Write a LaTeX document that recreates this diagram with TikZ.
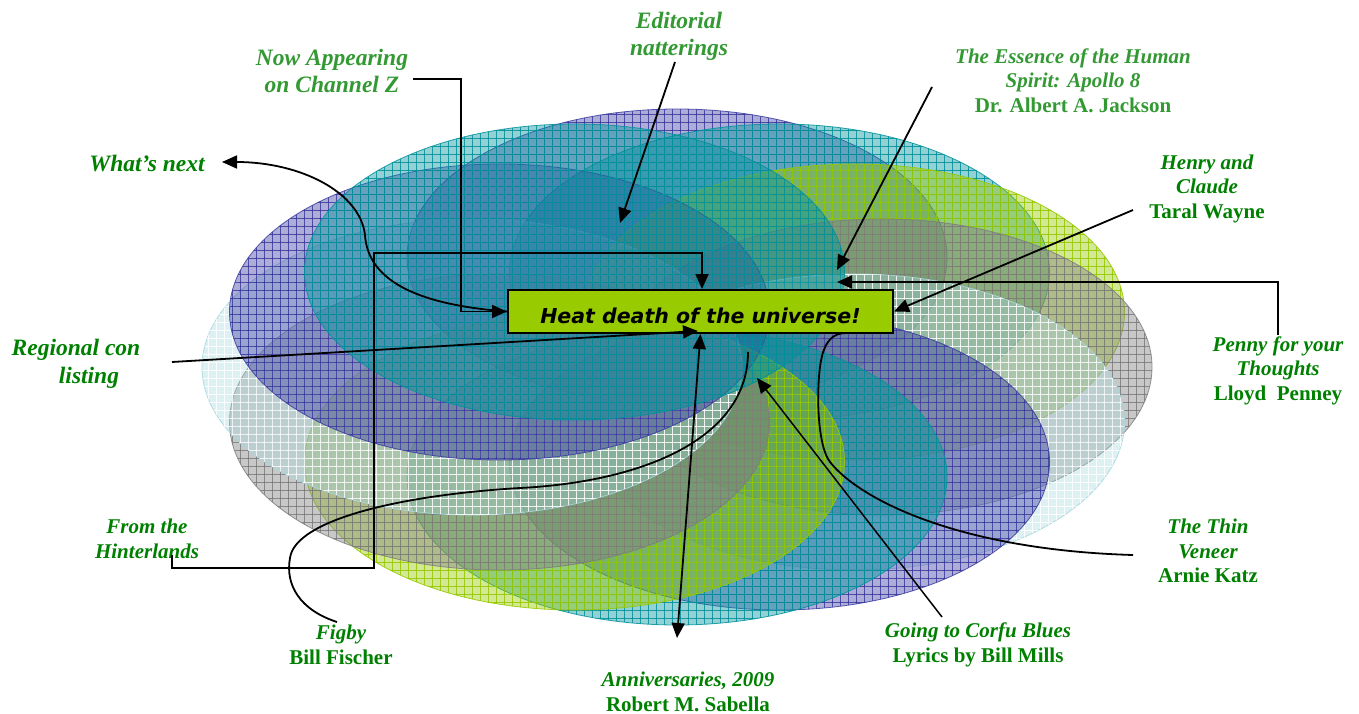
\documentclass[tikz,border=0pt]{standalone}
\usepackage{fontspec}
\setmainfont{Liberation Serif}
\newfontfamily\boxfont{DejaVu Sans}
\usetikzlibrary{arrows.meta,patterns}
\pgfdeclarepatternformonly{mygrid}{\pgfqpoint{-1pt}{-1pt}}{\pgfqpoint{9pt}{9pt}}{\pgfqpoint{8pt}{8pt}}{%
 \pgfsetlinewidth{0.6pt}%
 \pgfpathmoveto{\pgfqpoint{0pt}{-1pt}}\pgfpathlineto{\pgfqpoint{0pt}{9pt}}%
 \pgfpathmoveto{\pgfqpoint{-1pt}{0pt}}\pgfpathlineto{\pgfqpoint{9pt}{0pt}}%
 \pgfusepath{stroke}}
\definecolor{cP}{RGB}{60,60,160}
\definecolor{cT}{RGB}{0,145,155}
\definecolor{cY}{RGB}{150,200,0}
\definecolor{cG}{RGB}{125,125,125}
\definecolor{cL}{RGB}{165,215,222}
\definecolor{gD}{RGB}{0,128,0}
\definecolor{gL}{RGB}{51,153,51}
\definecolor{boxg}{RGB}{153,204,0}
\begin{document}
\begin{tikzpicture}[x=1pt,y=-1pt,
 ell/.style={fill=#1, fill opacity=0.42, draw=#1, draw opacity=0.85, line width=0.8pt,
   postaction={pattern=mygrid, pattern color=#1}},
 ellw/.style={fill=#1, fill opacity=0.38, draw=#1, draw opacity=0.85, line width=0.8pt,
   postaction={pattern=mygrid, pattern color=white}},
 conn/.style={draw=black, line width=1.8pt},
 tip/.style={-{Triangle[length=15pt,width=13pt]}},
 tips/.style={{Triangle[length=15pt,width=13pt]}-{Triangle[length=15pt,width=13pt]}},
 lab/.style={text=gD, font=\fontsize{21}{24.5}\selectfont\bfseries\itshape, align=center, inner sep=0pt},
 labL/.style={lab, text=gL},
 labB/.style={lab, font=\fontsize{23.5}{27}\selectfont\bfseries\itshape},
 heatbox/.style={draw=black, line width=2pt, fill=boxg, minimum width=385pt, minimum height=43pt,
   inner sep=0pt, text height=23pt, text depth=0pt, font=\boxfont\bfseries\itshape\fontsize{20.5}{24}\selectfont}
]
\useasboundingbox (0,0) rectangle (1359,714);
% ring of ellipses, each one laid over the one before it, clockwise
\def\rx{270pt}\def\ry{148pt}
\path[ell=cP]  (677,257) ellipse [x radius=\rx, y radius=\ry];
\path[ell=cT]  (779.5,272) ellipse [x radius=\rx, y radius=\ry];
\path[ell=cY]  (854.5,312) ellipse [x radius=\rx, y radius=\ry];
\path[ell=cG]  (882,367) ellipse [x radius=\rx, y radius=\ry];
\path[ellw=cL] (854.5,422) ellipse [x radius=\rx, y radius=\ry];
\path[ell=cP]  (779.5,462) ellipse [x radius=\rx, y radius=\ry];
\path[ell=cT]  (677,477) ellipse [x radius=\rx, y radius=\ry];
\path[ell=cY]  (574.5,462) ellipse [x radius=\rx, y radius=\ry];
\path[ell=cG]  (499.5,422) ellipse [x radius=\rx, y radius=\ry];
\path[ellw=cL] (472,367) ellipse [x radius=\rx, y radius=\ry];
\path[ell=cP]  (499.5,312) ellipse [x radius=\rx, y radius=\ry];
\path[ell=cT]  (574.5,272) ellipse [x radius=\rx, y radius=\ry];

% central box
\node[heatbox] (heat) at (700.5,311.5) {Heat death of the universe!};

% labels
\node[labB, text=gL] (nowapp) at (332,70.5) {Now Appearing\\on Channel Z};
\node[labB, text=gL] (editorial) at (679,36.5) {Editorial\\natterings};
\node[labB] (whatsnext) at (147,164) {What’s next};
\node[labL] (essence) at (1073,80.5) {The Essence of the Human\\Spirit: Apollo 8\\{\upshape Dr. Albert A. Jackson}};
\node[lab] (henry) at (1207,188.5) {Henry and\\Claude\\{\upshape Taral Wayne}};
\node[labB, font=\fontsize{23.5}{28}\selectfont\bfseries\itshape] (regional) at (76,364) {Regional con\\\hspace*{26pt}listing};
\node[lab] (penny) at (1278,370.5) {Penny for your\\Thoughts\\{\upshape Lloyd\ \ Penney}};
\node[lab] (thin) at (1208,551) {The Thin\\Veneer\\{\upshape Arnie Katz}};
\node[lab] (hinter) at (147,539) {From the\\Hinterlands};
\node[lab] (figby) at (341,645) {Figby\\{\upshape Bill Fischer}};
\node[lab] (corfu) at (978,645) {Going to Corfu Blues\\{\upshape Lyrics by Bill Mills}};
\node[lab] (anniv) at (688,692) {Anniversaries, 2009\\{\upshape Robert M. Sabella}};

% free ends and bends
\coordinate (na1) at (413,79);
\coordinate (na2) at (461,79);
\coordinate (na3) at (461,311.5);
\coordinate (ed0) at (675,62);
\coordinate (ed1) at (620,223);
\coordinate (es0) at (932,87);
\coordinate (es1) at (837,270);
\coordinate (he0) at (1133,210);
\coordinate (pe0) at (1278,335);
\coordinate (pe1) at (1278,282);
\coordinate (pe2) at (837,282);
\coordinate (th0) at (1133,555);
\coordinate (th1) at (846,333);
\coordinate (co0) at (942,617);
\coordinate (co1) at (757,378);
\coordinate (an0) at (677,638);
\coordinate (re0) at (172,362);
\coordinate (re1) at (698,331);
\coordinate (hi0) at (172,555);
\coordinate (hi1) at (172,568);
\coordinate (hi2) at (374,568);
\coordinate (hi3) at (374,253);
\coordinate (hi4) at (702,253);
\coordinate (fi0) at (337,622);
\coordinate (fi1) at (748,352);
\coordinate (wn1) at (222,162);

% connectors
\draw[conn,tip] (na1) -- (na2) -- (na3) -- (heat.west);
\draw[conn,tip] (heat.west) .. controls (420,305) and (368,282) .. (365,235)
   .. controls (360,192) and (300,162) .. (wn1);
\draw[conn,tip] (ed0) -- (ed1);
\draw[conn,tip] (es0) -- (es1);
\draw[conn,tip] (he0) -- (heat.east);
\draw[conn,tip] (pe0) -- (pe1) -- (pe2);
\draw[conn] (th0) .. controls (960,550) and (860,500) .. (830,462)
   .. controls (816,444) and (816,380) .. (822,356) .. controls (826,340) and (834,333) .. (th1);
\draw[conn,tip,line width=1.5pt] (co0) -- (co1);
\draw[conn,tips] (an0) -- (heat.south);
\draw[conn,tip] (re0) -- (re1);
\draw[conn,tip] (hi0) -- (hi1) -- (hi2) -- (hi3) -- (hi4) -- (heat.north -| hi4);
\draw[conn] (fi0) .. controls (300,610) and (285,585) .. (290,558)
   .. controls (295,520) and (400,495) .. (520,488)
   .. controls (640,482) and (748,440) .. (fi1);
\end{tikzpicture}
\end{document}
